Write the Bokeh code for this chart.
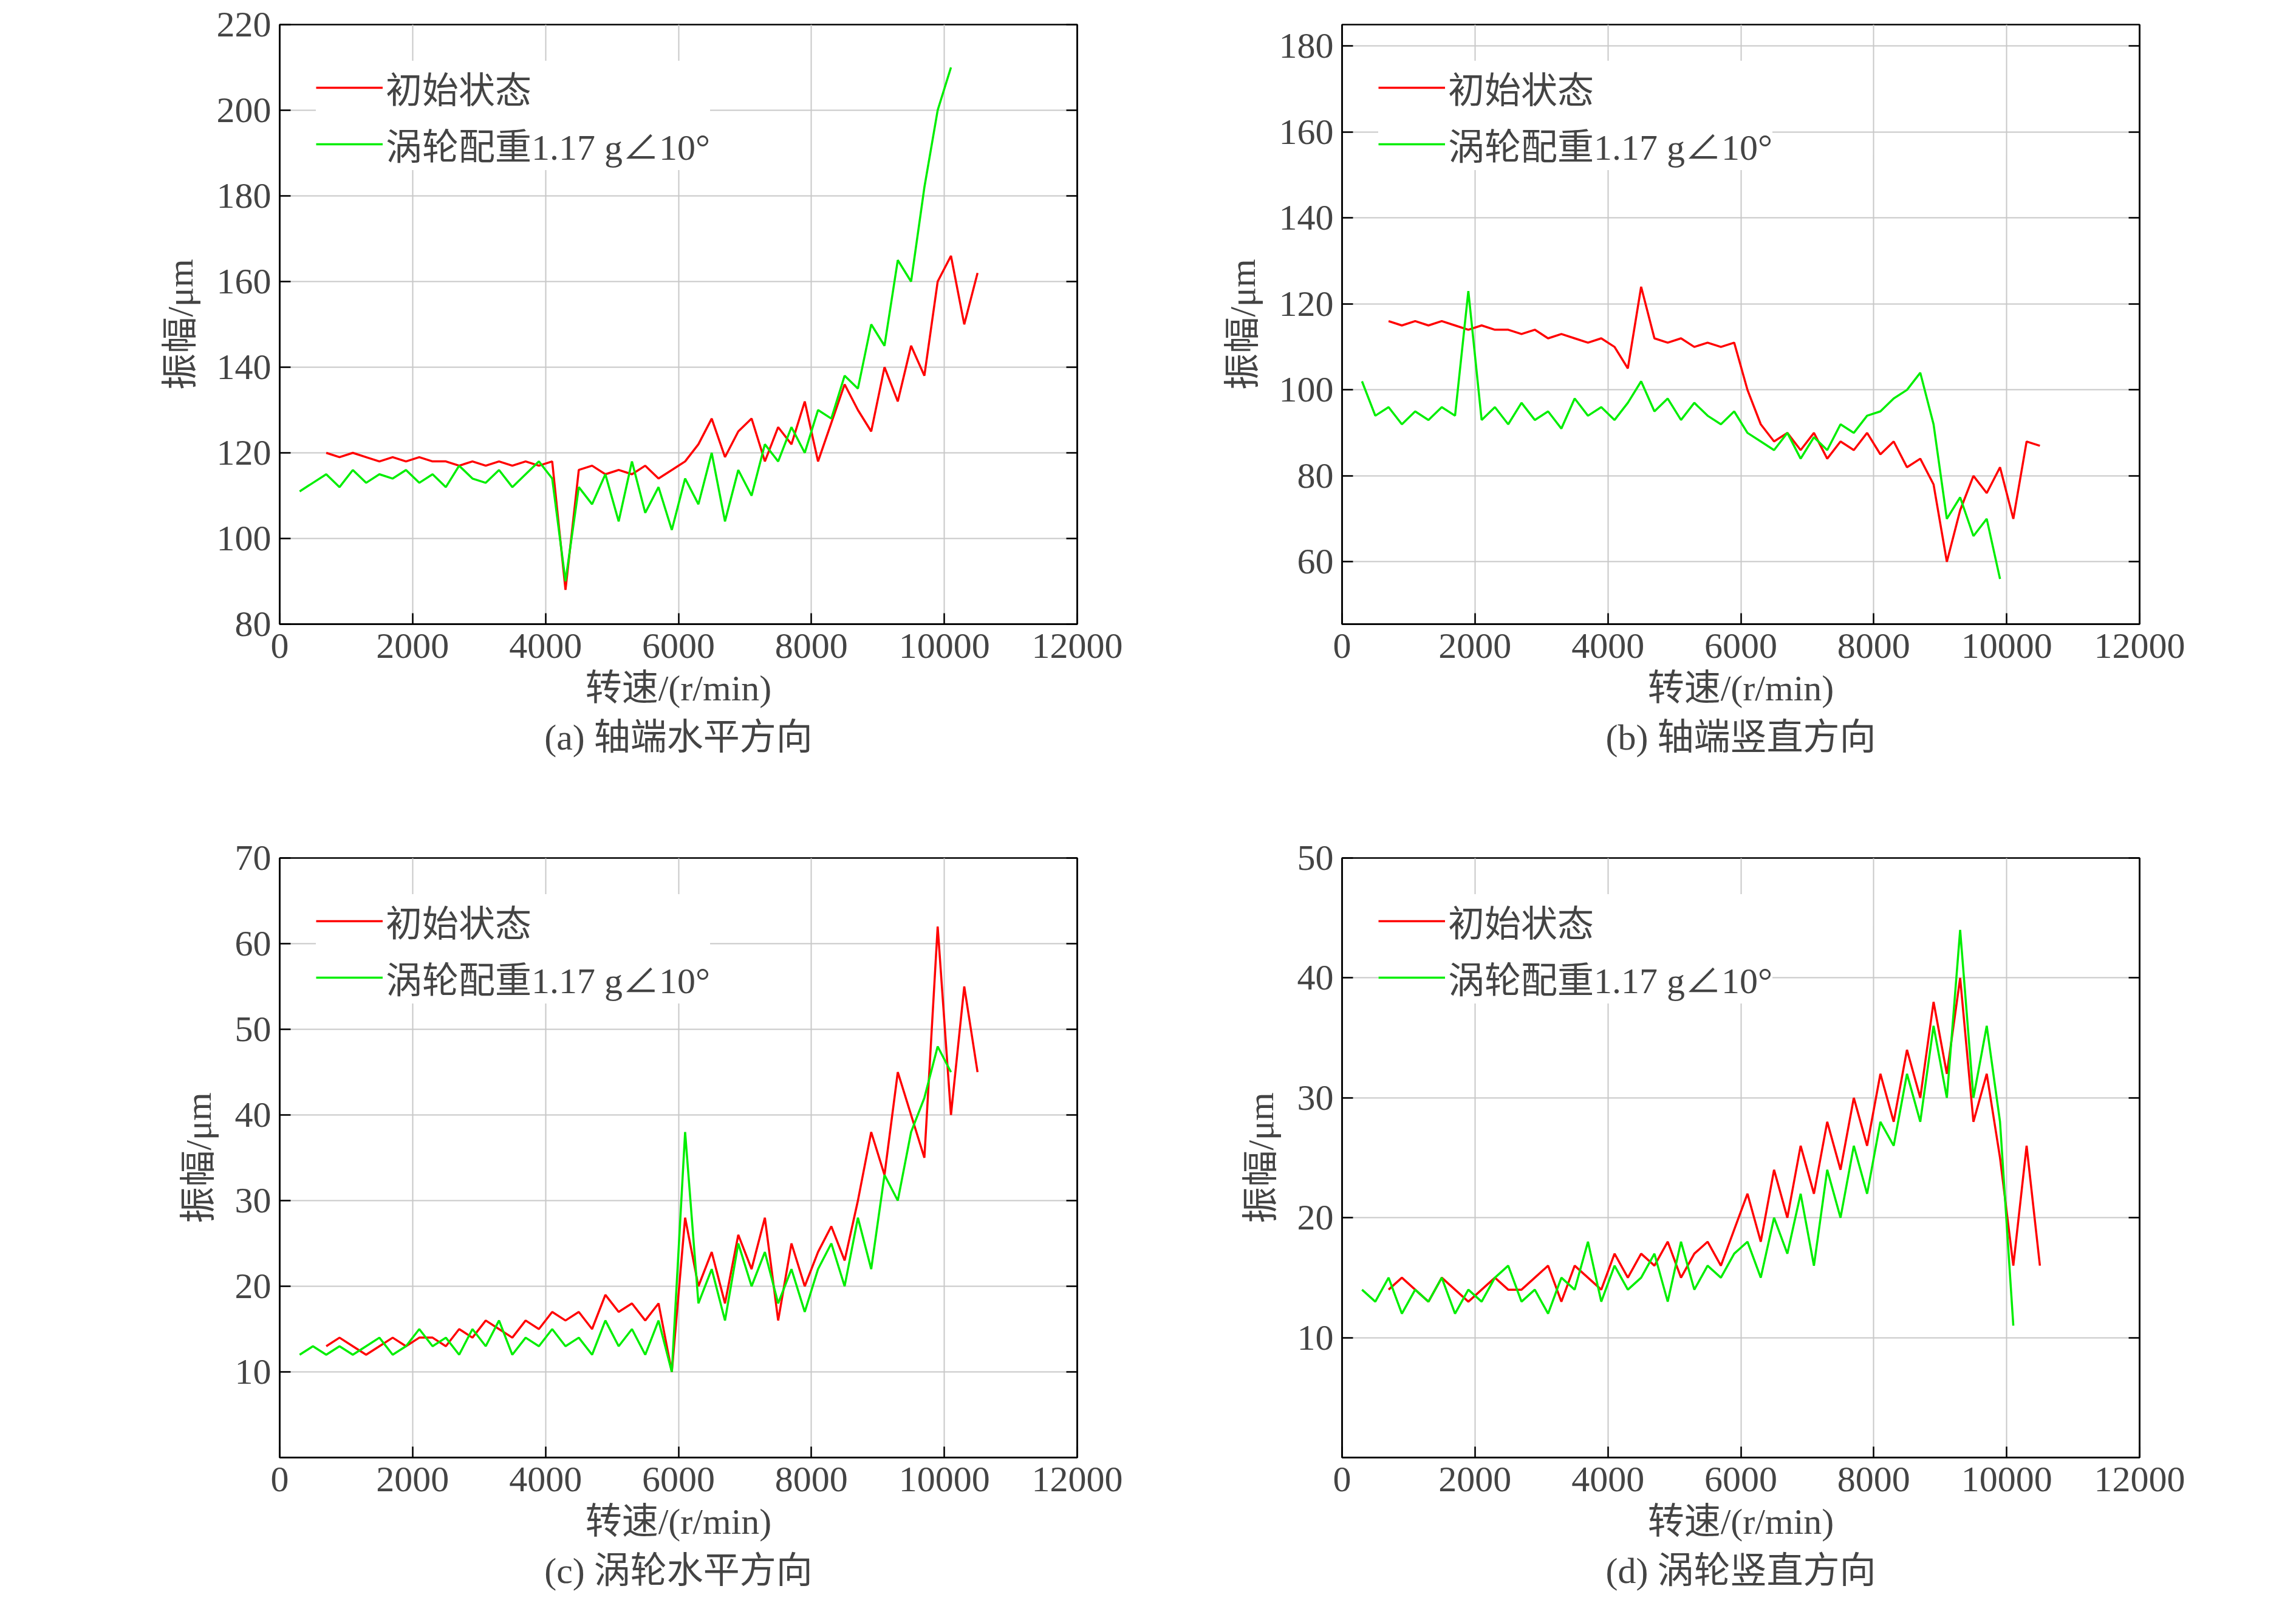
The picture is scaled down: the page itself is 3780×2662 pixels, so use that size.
from bokeh.plotting import figure
from bokeh.layouts import gridplot
from bokeh.models import LinearAxis, FixedTicker, Range1d
from bokeh.embed import file_html
from bokeh.resources import INLINE

nan = float("nan")

# rotating speed grid, r/min
rpm = [300, 500, 700, 900, 1100, 1300, 1500, 1700, 1900, 2100,
       2300, 2500, 2700, 2900, 3100, 3300, 3500, 3700, 3900, 4100,
       4300, 4500, 4700, 4900, 5100, 5300, 5500, 5700, 5900, 6100,
       6300, 6500, 6700, 6900, 7100, 7300, 7500, 7700, 7900, 8100,
       8300, 8500, 8700, 8900, 9100, 9300, 9500, 9700, 9900, 10100,
       10300, 10500]

a_red = [nan, nan, 120, 119, 120, 119, 118, 119, 118, 119,
         118, 118, 117, 118, 117, 118, 117, 118, 117, 118,
         88, 116, 117, 115, 116, 115, 117, 114, 116, 118,
         122, 128, 119, 125, 128, 118, 126, 122, 132, 118,
         127, 136, 130, 125, 140, 132, 145, 138, 160, 166,
         150, 162]
a_green = [111, 113, 115, 112, 116, 113, 115, 114, 116, 113,
           115, 112, 117, 114, 113, 116, 112, 115, 118, 114,
           90, 112, 108, 115, 104, 118, 106, 112, 102, 114,
           108, 120, 104, 116, 110, 122, 118, 126, 120, 130,
           128, 138, 135, 150, 145, 165, 160, 182, 200, 210,
           nan, nan]
b_red = [nan, nan, 116, 115, 116, 115, 116, 115, 114, 115,
         114, 114, 113, 114, 112, 113, 112, 111, 112, 110,
         105, 124, 112, 111, 112, 110, 111, 110, 111, 100,
         92, 88, 90, 86, 90, 84, 88, 86, 90, 85,
         88, 82, 84, 78, 60, 72, 80, 76, 82, 70,
         88, 87]
b_green = [102, 94, 96, 92, 95, 93, 96, 94, 123, 93,
           96, 92, 97, 93, 95, 91, 98, 94, 96, 93,
           97, 102, 95, 98, 93, 97, 94, 92, 95, 90,
           88, 86, 90, 84, 89, 86, 92, 90, 94, 95,
           98, 100, 104, 92, 70, 75, 66, 70, 56, nan,
           nan, nan]
c_red = [nan, nan, 13, 14, 13, 12, 13, 14, 13, 14,
         14, 13, 15, 14, 16, 15, 14, 16, 15, 17,
         16, 17, 15, 19, 17, 18, 16, 18, 10, 28,
         20, 24, 18, 26, 22, 28, 16, 25, 20, 24,
         27, 23, 30, 38, 33, 45, 40, 35, 62, 40,
         55, 45]
c_green = [12, 13, 12, 13, 12, 13, 14, 12, 13, 15,
           13, 14, 12, 15, 13, 16, 12, 14, 13, 15,
           13, 14, 12, 16, 13, 15, 12, 16, 10, 38,
           18, 22, 16, 25, 20, 24, 18, 22, 17, 22,
           25, 20, 28, 22, 33, 30, 38, 42, 48, 45,
           nan, nan]
d_red = [nan, nan, 14, 15, 14, 13, 15, 14, 13, 14,
         15, 14, 14, 15, 16, 13, 16, 15, 14, 17,
         15, 17, 16, 18, 15, 17, 18, 16, 19, 22,
         18, 24, 20, 26, 22, 28, 24, 30, 26, 32,
         28, 34, 30, 38, 32, 40, 28, 32, 25, 16,
         26, 16]
d_green = [14, 13, 15, 12, 14, 13, 15, 12, 14, 13,
           15, 16, 13, 14, 12, 15, 14, 18, 13, 16,
           14, 15, 17, 13, 18, 14, 16, 15, 17, 18,
           15, 20, 17, 22, 16, 24, 20, 26, 22, 28,
           26, 32, 28, 36, 30, 44, 30, 36, 28, 11,
           nan, nan]

captions = ["(a) 轴端水平方向", "(b) 轴端竖直方向", "(c) 涡轮水平方向", "(d) 涡轮竖直方向"]
y_ranges = [(80, 220), (45.5, 185), (0, 70), (0, 50)]
y_ticks = [[80, 100, 120, 140, 160, 180, 200, 220],
           [60, 80, 100, 120, 140, 160, 180],
           [10, 20, 30, 40, 50, 60, 70],
           [10, 20, 30, 40, 50]]
x_ticks = [0, 2000, 4000, 6000, 8000, 10000, 12000]
red_label = "初始状态"
green_label = "涡轮配重1.17 g∠10°"

FONT = "Liberation Serif, Noto Sans CJK SC"


def make_panel(k, red, green):
    top = k >= 2
    p = figure(frame_width=1313, frame_height=987, output_backend="svg", toolbar_location=None,
               x_range=Range1d(0, 12000), y_range=Range1d(*y_ranges[k]),
               min_border_left=460 if k % 2 == 0 else 327, min_border_right=109 if k % 2 == 0 else 150,
               min_border_top=40, min_border_bottom=225 if top else 345,
               x_axis_label="转速/(r/min)", y_axis_label="振幅/μm",
               title=captions[k], title_location="below")
    p.line(rpm, red, line_color="#ff0000", line_width=3.5, legend_label=red_label)
    p.line(rpm, green, line_color="#00ee00", line_width=3.5, legend_label=green_label)
    p.xaxis.ticker = FixedTicker(ticks=x_ticks)
    p.yaxis.ticker = FixedTicker(ticks=y_ticks[k])
    p.xaxis.formatter.use_scientific = False
    for ax in [p.xaxis[0], p.yaxis[0]]:
        ax.major_label_text_font = FONT
        ax.major_label_text_font_size = "60px"
        ax.axis_label_text_font = FONT
        ax.axis_label_text_font_size = "60px"
        ax.axis_label_text_font_style = "normal"
        ax.major_tick_in = 18
        ax.major_tick_out = 0
        ax.minor_tick_line_color = None
        ax.axis_line_width = 2.5
        ax.major_tick_line_width = 2.5
    p.xaxis.major_label_standoff = 16
    p.xaxis.axis_label_standoff = 14
    p.yaxis.major_label_standoff = 14
    p.yaxis.axis_label_standoff = 24
    right = LinearAxis(ticker=FixedTicker(ticks=y_ticks[k]),
                       major_label_overrides={t: "" for t in y_ticks[k]},
                       major_tick_in=18, major_tick_out=0, minor_tick_line_color=None,
                       axis_line_width=2.5, major_tick_line_width=2.5)
    p.add_layout(right, "right")
    p.grid.grid_line_color = "#c8c8c8"
    p.grid.grid_line_width = 2
    p.outline_line_color = "black"
    p.outline_line_width = 2.5
    p.title.align = "center"
    p.title.text_font = FONT
    p.title.text_font_size = "60px"
    p.title.text_font_style = "normal"
    p.title.standoff = 20
    lg = p.legend[0]
    lg.location = "top_left"
    lg.label_text_font = FONT
    lg.label_text_font_size = "60px"
    lg.glyph_width = 110
    lg.label_height = 70
    lg.glyph_height = 70
    lg.spacing = 6
    lg.border_line_color = None
    lg.background_fill_alpha = 1
    lg.margin = 60
    lg.padding = 40
    return p


panels = [make_panel(0, a_red, a_green), make_panel(1, b_red, b_green),
          make_panel(2, c_red, c_green), make_panel(3, d_red, d_green)]
layout = gridplot([[panels[0], panels[1]], [panels[2], panels[3]]], toolbar_location=None)

open("out.html", "w").write(file_html(layout, INLINE))
